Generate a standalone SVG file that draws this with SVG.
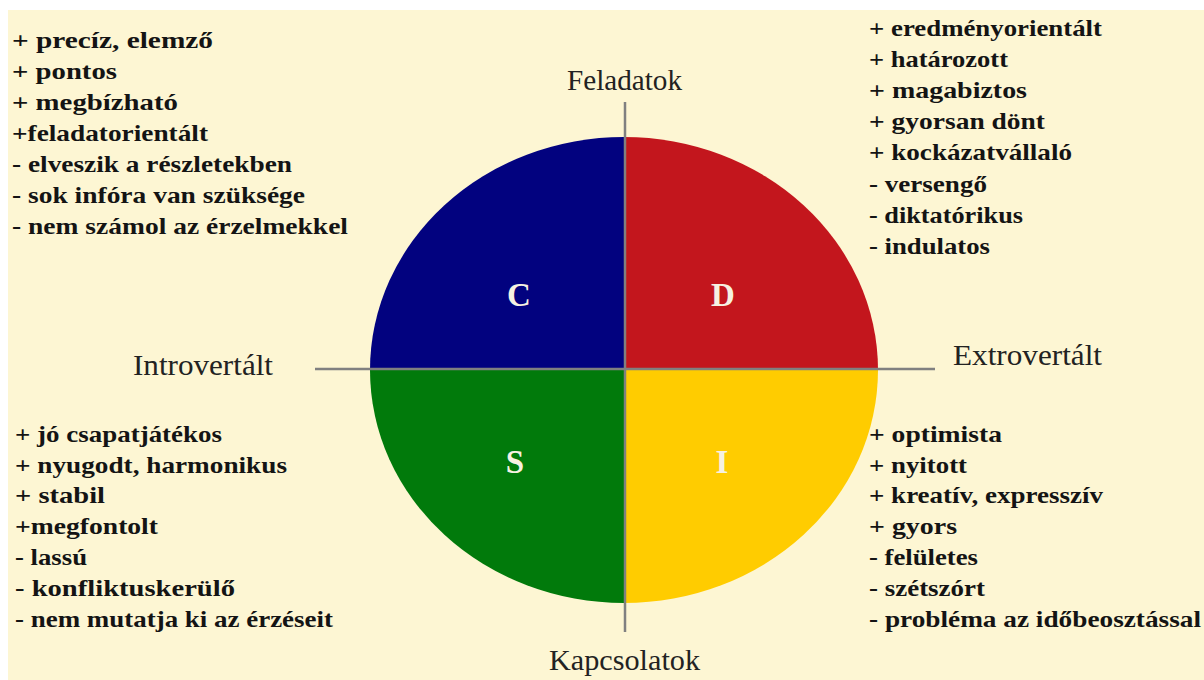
<svg xmlns="http://www.w3.org/2000/svg" width="1204" height="680" viewBox="0 0 1204 680">
<style>
.t{font-family:"Liberation Serif","DejaVu Serif",serif;font-weight:bold;font-size:23.5px;fill:#141414}
.ax{font-family:"Liberation Serif","DejaVu Serif",serif;font-size:29px;fill:#222}
.q{font-family:"Liberation Serif","DejaVu Serif",serif;font-weight:bold;font-size:33px;fill:#f6f1e2;text-anchor:middle}
.axis{stroke:#808080;stroke-width:2.5;fill:none}
</style>
<rect x="0" y="0" width="1204" height="680" fill="#ffffff"/>
<rect x="8" y="10" width="1196" height="670" fill="#fdf6d3"/>
<g id="circle">
<g id="C"><path d="M624,370 L370,370 A254,233 0 0 1 624,137 Z" fill="#02027f"/><text class="q" x="519" y="306">C</text></g>
<g id="D"><path d="M624,370 L624,137 A254,233 0 0 1 878,370 Z" fill="#c3161d"/><text class="q" x="723" y="306">D</text></g>
<g id="I"><path d="M624,370 L878,370 A254,233 0 0 1 624,603 Z" fill="#ffcc00"/><text class="q" x="722" y="473">I</text></g>
<g id="S"><path d="M624,370 L624,603 A254,233 0 0 1 370,370 Z" fill="#017a0b"/><text class="q" x="515" y="473">S</text></g>
</g>
<g id="connectors">
<line class="axis" x1="625" y1="102" x2="625" y2="632"/>
<line class="axis" x1="315" y1="369" x2="935" y2="369"/>
</g>
<g id="labels">
<text class="ax" x="567" y="90" textLength="115" lengthAdjust="spacingAndGlyphs">Feladatok</text>
<text class="ax" x="549" y="670" textLength="151" lengthAdjust="spacingAndGlyphs">Kapcsolatok</text>
<text class="ax" x="133" y="375" textLength="140" lengthAdjust="spacingAndGlyphs">Introvertált</text>
<text class="ax" x="953" y="365" textLength="149" lengthAdjust="spacingAndGlyphs">Extrovertált</text>
</g>
<g id="list-C">
<text class="t" x="12" y="48" textLength="201" lengthAdjust="spacingAndGlyphs">+ precíz, elemző</text>
<text class="t" x="12" y="79" textLength="105" lengthAdjust="spacingAndGlyphs">+ pontos</text>
<text class="t" x="12" y="110" textLength="166" lengthAdjust="spacingAndGlyphs">+ megbízható</text>
<text class="t" x="12" y="141" textLength="196" lengthAdjust="spacingAndGlyphs">+feladatorientált</text>
<text class="t" x="12" y="172" textLength="280" lengthAdjust="spacingAndGlyphs">- elveszik a részletekben</text>
<text class="t" x="12" y="203" textLength="293" lengthAdjust="spacingAndGlyphs">- sok infóra van szüksége</text>
<text class="t" x="12" y="234" textLength="336" lengthAdjust="spacingAndGlyphs">- nem számol az érzelmekkel</text>
</g>
<g id="list-D">
<text class="t" x="869" y="36" textLength="233" lengthAdjust="spacingAndGlyphs">+ eredményorientált</text>
<text class="t" x="869" y="67" textLength="139" lengthAdjust="spacingAndGlyphs">+ határozott</text>
<text class="t" x="869" y="98" textLength="158" lengthAdjust="spacingAndGlyphs">+ magabiztos</text>
<text class="t" x="869" y="129" textLength="176" lengthAdjust="spacingAndGlyphs">+ gyorsan dönt</text>
<text class="t" x="869" y="160" textLength="203" lengthAdjust="spacingAndGlyphs">+ kockázatvállaló</text>
<text class="t" x="869" y="191.5" textLength="118" lengthAdjust="spacingAndGlyphs">- versengő</text>
<text class="t" x="869" y="222.5" textLength="154" lengthAdjust="spacingAndGlyphs">- diktatórikus</text>
<text class="t" x="869" y="253.5" textLength="121" lengthAdjust="spacingAndGlyphs">- indulatos</text>
</g>
<g id="list-S">
<text class="t" x="15" y="442" textLength="207" lengthAdjust="spacingAndGlyphs">+ jó csapatjátékos</text>
<text class="t" x="15" y="472.5" textLength="272" lengthAdjust="spacingAndGlyphs">+ nyugodt, harmonikus</text>
<text class="t" x="15" y="503" textLength="90" lengthAdjust="spacingAndGlyphs">+ stabil</text>
<text class="t" x="15" y="534" textLength="143" lengthAdjust="spacingAndGlyphs">+megfontolt</text>
<text class="t" x="15" y="565" textLength="72" lengthAdjust="spacingAndGlyphs">- lassú</text>
<text class="t" x="15" y="596" textLength="220" lengthAdjust="spacingAndGlyphs">- konfliktuskerülő</text>
<text class="t" x="15" y="627" textLength="318" lengthAdjust="spacingAndGlyphs">- nem mutatja ki az érzéseit</text>
</g>
<g id="list-I">
<text class="t" x="869" y="442" textLength="133" lengthAdjust="spacingAndGlyphs">+ optimista</text>
<text class="t" x="869" y="472.5" textLength="98" lengthAdjust="spacingAndGlyphs">+ nyitott</text>
<text class="t" x="869" y="503" textLength="234" lengthAdjust="spacingAndGlyphs">+ kreatív, expresszív</text>
<text class="t" x="869" y="534" textLength="88" lengthAdjust="spacingAndGlyphs">+ gyors</text>
<text class="t" x="869" y="565" textLength="109" lengthAdjust="spacingAndGlyphs">- felületes</text>
<text class="t" x="869" y="596" textLength="116" lengthAdjust="spacingAndGlyphs">- szétszórt</text>
<text class="t" x="869" y="627" textLength="332" lengthAdjust="spacingAndGlyphs">- probléma az időbeosztással</text>
</g>
</svg>
